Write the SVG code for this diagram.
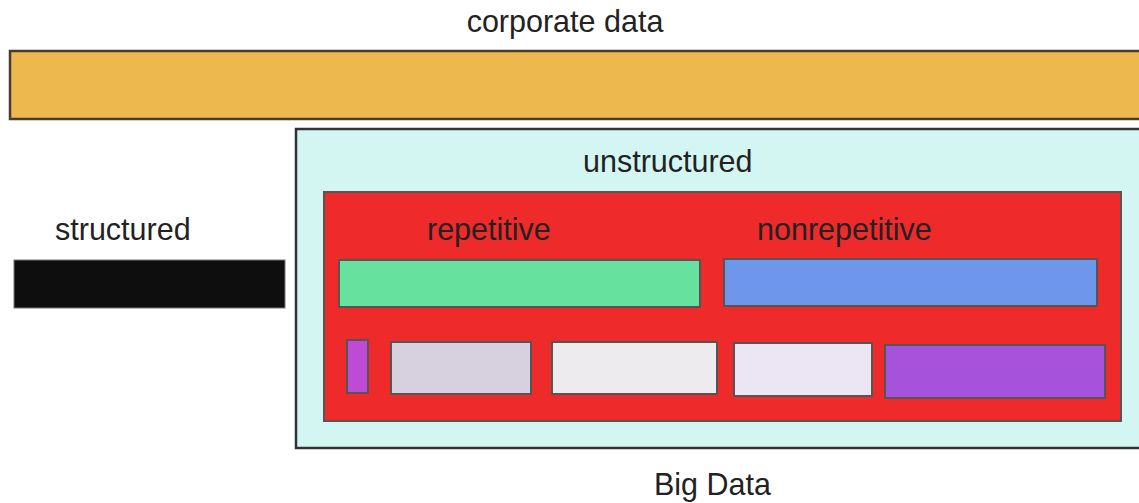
<svg xmlns="http://www.w3.org/2000/svg" width="1139" height="503" viewBox="0 0 1139 503">
<style>
text{font-family:"Liberation Sans",Arial,sans-serif;font-size:30.5px;fill:#222}
.box{stroke:#555;stroke-width:2}
</style>
<rect width="1139" height="503" fill="#fff"/>
<g id="corporate">
<rect x="10" y="51" width="1140" height="68" fill="#EDB94E" stroke="#4a3b2c" stroke-width="2.5"/>
<text x="565" y="32" text-anchor="middle">corporate data</text>
</g>
<g id="structured">
<text x="55" y="240">structured</text>
<rect x="14" y="260" width="271" height="48" fill="#0e0e0e" stroke="#777" stroke-width="1"/>
</g>
<g id="bigdata">
<rect x="296" y="129" width="860" height="319" fill="#D4F6F3" stroke="#333" stroke-width="2.5"/>
<text x="583" y="172">unstructured</text>
<text x="654" y="495">Big Data</text>
</g>
<g id="unstructured">
<rect class="box" x="324" y="192" width="797" height="229" fill="#EE2A2B"/>
</g>
<g id="repetitive">
<text x="427" y="240">repetitive</text>
<rect class="box" x="339" y="260" width="361" height="47" fill="#66E29E"/>
</g>
<g id="nonrepetitive">
<text x="757" y="240">nonrepetitive</text>
<rect class="box" x="724" y="259" width="373" height="47" fill="#6E97EB"/>
</g>
<g id="item1"><rect class="box" x="347" y="340" width="21" height="53" fill="#BE4AD6"/></g>
<g id="item2"><rect class="box" x="391" y="342" width="140" height="52" fill="#D7D0DF"/></g>
<g id="item3"><rect class="box" x="552" y="342" width="165" height="52" fill="#EEEBEE"/></g>
<g id="item4"><rect class="box" x="734" y="343" width="138" height="53" fill="#ECE6F4"/></g>
<g id="item5"><rect class="box" x="885" y="345" width="220" height="53" fill="#A752DA"/></g>
<g id="connectors"/>
</svg>
